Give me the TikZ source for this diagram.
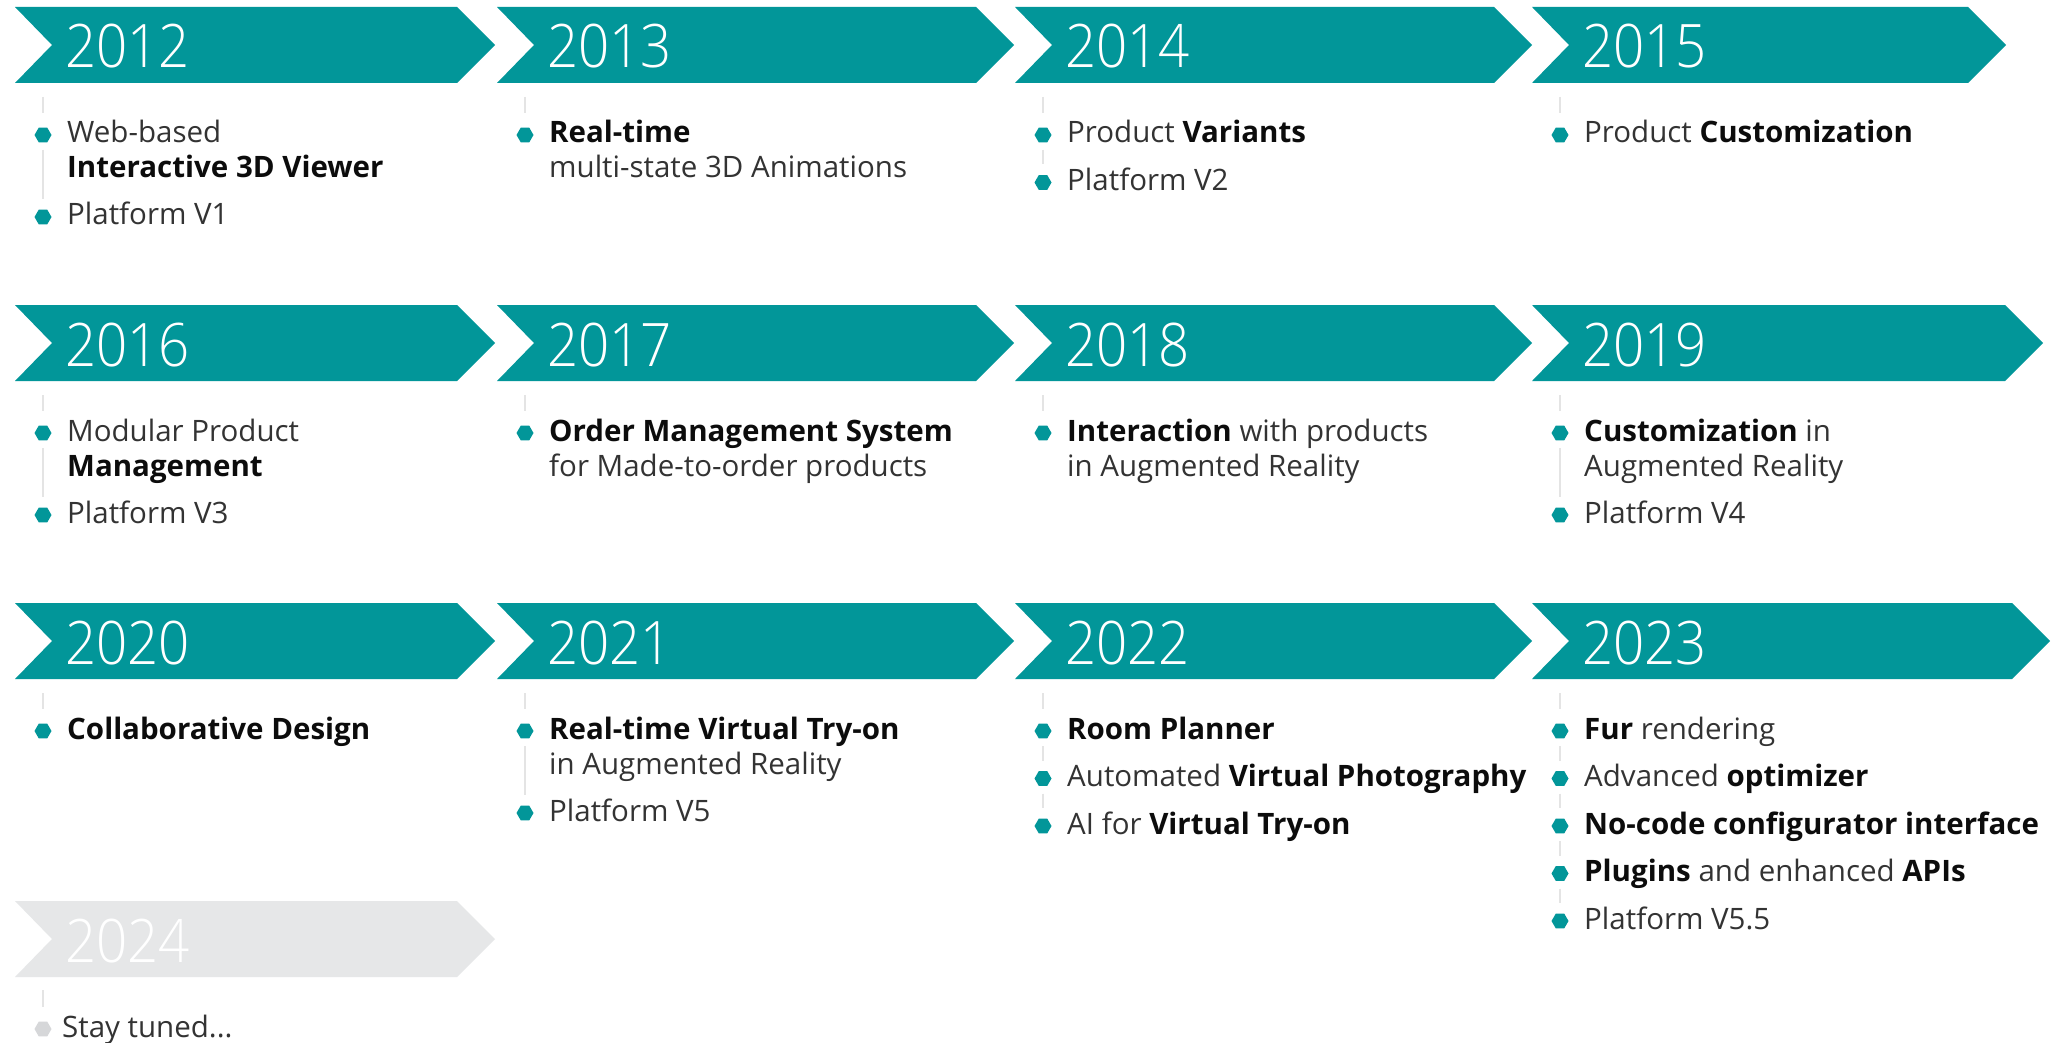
\documentclass[tikz,border=0pt]{standalone}
\usepackage{fontspec}
\setmainfont{Open Sans}
\newfontfamily\yearfont{Open Sans Light}[FakeStretch=0.91]
\usetikzlibrary{shapes.geometric,calc}

\definecolor{tealbar}{RGB}{2,150,153}
\definecolor{futurebar}{RGB}{230,231,232}
\definecolor{bodytext}{RGB}{51,51,51}
\definecolor{strongtext}{RGB}{12,12,12}
\definecolor{rulegray}{RGB}{228,228,228}
\definecolor{dotgray}{RGB}{214,215,217}

\newcommand\hl[1]{\textcolor{strongtext}{\bfseries #1}}

% ribbon with a notched tail and a pointed head, plus its year label
\newcommand\yearbar[6]{%
  \fill[#5] (#2,#3) -- ({#2+37},{#3+38}) -- (#2,{#3+76}) -- (#4,{#3+76})
        -- ({#4+38},{#3+38}) -- (#4,#3) -- cycle;
  \node[yeartext] (#1) at ({#2+50},{#3+61}) {#6};
}
\newcommand\stub[2]{\draw[rulel] (#1) -- ($(#2)+(0,-22)$);}
\newcommand\link[2]{\draw[rulel] ($(#1)+(0,15)$) -- ($(#2)+(0,-18)$);}

\tikzset{
  yeartext/.style={anchor=base west, inner sep=0pt, text=white,
                   font=\yearfont\fontsize{60}{60}\selectfont},
  entry/.style={anchor=base west, inner sep=0pt, text=bodytext,
                font=\fontsize{29.5}{35}\selectfont},
  dot/.style={regular polygon, regular polygon sides=6, minimum size=17pt,
              inner sep=0pt, fill=tealbar},
  rulel/.style={draw=rulegray, line width=2pt}
}

\begin{document}
\begin{tikzpicture}[x=1pt,y=-1pt]
\useasboundingbox[fill=white] (0,0) rectangle (2063,1043);

% ---------------- first row ----------------
\yearbar{y2012}{15}{7}{457}{tealbar}{2012}
\coordinate (s2012) at (43,97);
\node[dot] (d2012a) at (43,135) {};
\node[entry] (t2012a) at (67,143) {Web-based};
\node[entry] (t2012b) at (67,178) {\hl{Interactive 3D Viewer}};
\node[dot] (d2012b) at (43,217) {};
\node[entry] (t2012c) at (67,225) {Platform V1};
\stub{s2012}{d2012a}
\link{d2012a}{d2012b}

\yearbar{y2013}{497}{7}{976}{tealbar}{2013}
\coordinate (s2013) at (525,97);
\node[dot] (d2013a) at (525,135) {};
\node[entry] (t2013a) at (549,143) {\hl{Real-time}};
\node[entry] (t2013b) at (549,178) {multi-state 3D Animations};
\stub{s2013}{d2013a}

\yearbar{y2014}{1015}{7}{1494}{tealbar}{2014}
\coordinate (s2014) at (1043,97);
\node[dot] (d2014a) at (1043,135) {};
\node[entry] (t2014a) at (1067,143) {Product \hl{Variants}};
\node[dot] (d2014b) at (1043,182.5) {};
\node[entry] (t2014b) at (1067,190.5) {Platform V2};
\stub{s2014}{d2014a}
\link{d2014a}{d2014b}

\yearbar{y2015}{1532}{7}{1968}{tealbar}{2015}
\coordinate (s2015) at (1560,97);
\node[dot] (d2015a) at (1560,135) {};
\node[entry] (t2015a) at (1584,143) {Product \hl{Customization}};
\stub{s2015}{d2015a}

% ---------------- second row ----------------
\yearbar{y2016}{15}{305}{457}{tealbar}{2016}
\coordinate (s2016) at (43,395);
\node[dot] (d2016a) at (43,433) {};
\node[entry] (t2016a) at (67,441) {Modular Product};
\node[entry] (t2016b) at (67,476) {\hl{Management}};
\node[dot] (d2016b) at (43,515) {};
\node[entry] (t2016c) at (67,523) {Platform V3};
\stub{s2016}{d2016a}
\link{d2016a}{d2016b}

\yearbar{y2017}{497}{305}{976}{tealbar}{2017}
\coordinate (s2017) at (525,395);
\node[dot] (d2017a) at (525,433) {};
\node[entry] (t2017a) at (549,441) {\hl{Order Management System}};
\node[entry] (t2017b) at (549,476) {for Made-to-order products};
\stub{s2017}{d2017a}

\yearbar{y2018}{1015}{305}{1494}{tealbar}{2018}
\coordinate (s2018) at (1043,395);
\node[dot] (d2018a) at (1043,433) {};
\node[entry] (t2018a) at (1067,441) {\hl{Interaction} with products};
\node[entry] (t2018b) at (1067,476) {in Augmented Reality};
\stub{s2018}{d2018a}

\yearbar{y2019}{1532}{305}{2005}{tealbar}{2019}
\coordinate (s2019) at (1560,395);
\node[dot] (d2019a) at (1560,433) {};
\node[entry] (t2019a) at (1584,441) {\hl{Customization} in};
\node[entry] (t2019b) at (1584,476) {Augmented Reality};
\node[dot] (d2019b) at (1560,515) {};
\node[entry] (t2019c) at (1584,523) {Platform V4};
\stub{s2019}{d2019a}
\link{d2019a}{d2019b}

% ---------------- third row ----------------
\yearbar{y2020}{15}{603}{457}{tealbar}{2020}
\coordinate (s2020) at (43,693);
\node[dot] (d2020a) at (43,731) {};
\node[entry] (t2020a) at (67,739) {\hl{Collaborative Design}};
\stub{s2020}{d2020a}

\yearbar{y2021}{497}{603}{976}{tealbar}{2021}
\coordinate (s2021) at (525,693);
\node[dot] (d2021a) at (525,731) {};
\node[entry] (t2021a) at (549,739) {\hl{Real-time Virtual Try-on}};
\node[entry] (t2021b) at (549,774) {in Augmented Reality};
\node[dot] (d2021b) at (525,813) {};
\node[entry] (t2021c) at (549,821) {Platform V5};
\stub{s2021}{d2021a}
\link{d2021a}{d2021b}

\yearbar{y2022}{1015}{603}{1494}{tealbar}{2022}
\coordinate (s2022) at (1043,693);
\node[dot] (d2022a) at (1043,731) {};
\node[entry] (t2022a) at (1067,739) {\hl{Room Planner}};
\node[dot] (d2022b) at (1043,778.5) {};
\node[entry] (t2022b) at (1067,786.5) {Automated \hl{Virtual Photography}};
\node[dot] (d2022c) at (1043,826) {};
\node[entry] (t2022c) at (1067,834) {AI for \hl{Virtual Try-on}};
\stub{s2022}{d2022a}
\link{d2022a}{d2022b}
\link{d2022b}{d2022c}

\yearbar{y2023}{1532}{603}{2012}{tealbar}{2023}
\coordinate (s2023) at (1560,693);
\node[dot] (d2023a) at (1560,731) {};
\node[entry] (t2023a) at (1584,739) {\hl{Fur} rendering};
\node[dot] (d2023b) at (1560,778.5) {};
\node[entry] (t2023b) at (1584,786.5) {Advanced \hl{optimizer}};
\node[dot] (d2023c) at (1560,826) {};
\node[entry] (t2023c) at (1584,834) {\hl{No-code configurator interface}};
\node[dot] (d2023d) at (1560,873.5) {};
\node[entry] (t2023d) at (1584,881.5) {\hl{Plugins} and enhanced \hl{APIs}};
\node[dot] (d2023e) at (1560,921) {};
\node[entry] (t2023e) at (1584,929) {Platform V5.5};
\stub{s2023}{d2023a}
\link{d2023a}{d2023b}
\link{d2023b}{d2023c}
\link{d2023c}{d2023d}
\link{d2023d}{d2023e}

% ---------------- upcoming ----------------
\yearbar{y2024}{15}{901}{457}{futurebar}{2024}
\coordinate (s2024) at (43,990);
\node[dot, fill=dotgray] (d2024a) at (43,1029) {};
\node[entry] (t2024a) at (62,1037) {Stay tuned...};
\stub{s2024}{d2024a}

\end{tikzpicture}
\end{document}
